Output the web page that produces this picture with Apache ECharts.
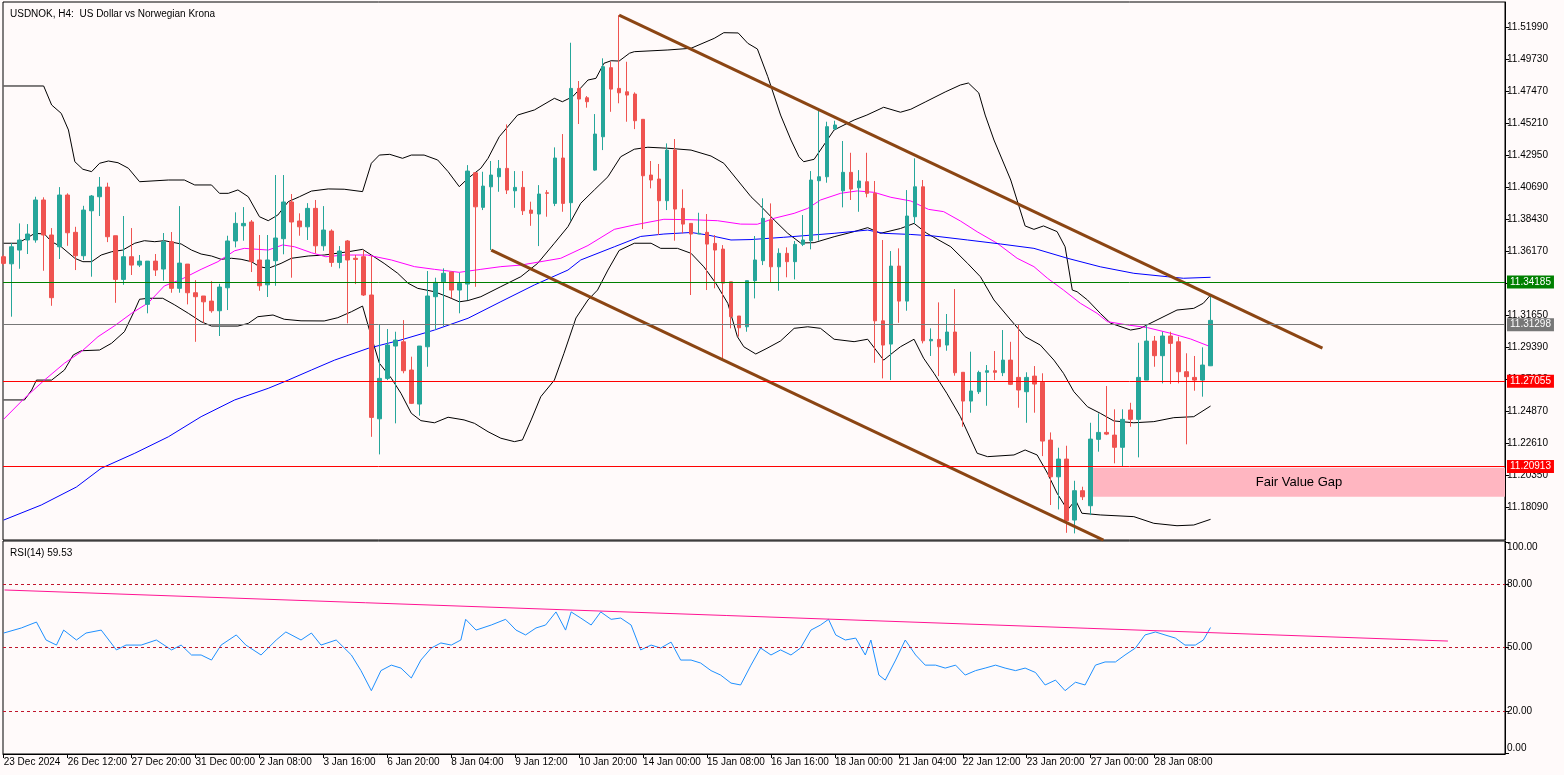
<!DOCTYPE html>
<html><head><meta charset="utf-8">
<script src="https://cdn.jsdelivr.net/npm/echarts@6/dist/echarts.min.js"></script>
<style>html,body{margin:0;padding:0;background:#fffafa;}#c{width:1564px;height:775px;}</style>
</head><body><div id="c"></div>
<script>
const tickLabels = ['23 Dec 2024','26 Dec 12:00','27 Dec 20:00','31 Dec 00:00','2 Jan 08:00','3 Jan 16:00','6 Jan 20:00','8 Jan 04:00','9 Jan 12:00','10 Jan 20:00','14 Jan 00:00','15 Jan 08:00','16 Jan 16:00','18 Jan 00:00','21 Jan 04:00','22 Jan 12:00','23 Jan 20:00','27 Jan 00:00','28 Jan 08:00'];
const priceTicks = [11.1809,11.2035,11.2261,11.2487,11.2713,11.2939,11.3165,11.3391,11.3617,11.3843,11.4069,11.4295,11.4521,11.4747,11.4973,11.5199];
const rsiTicks = [0,20,50,80,100];

const opens = [11.3579,11.3529,11.3626,11.3697,11.3697,11.3979,11.3732,11.3649,11.4014,11.3751,
11.3586,11.3903,11.4002,11.4070,11.3727,11.3419,11.3579,11.3520,11.3243,11.3548,
11.3492,11.3685,11.3356,11.3527,11.3325,11.3302,11.3266,11.3198,11.3360,11.3690,
11.3797,11.3824,11.3556,11.3381,11.3551,11.3706,11.3965,11.3831,11.3790,11.3920,
11.3656,11.3760,11.3539,11.3690,11.3568,11.3579,11.3309,11.2436,11.2721,11.2949,
11.2979,11.2780,11.2540,11.2944,11.3297,11.3402,11.3471,11.3344,11.3386,11.4171,
11.3927,11.4072,11.4143,11.4202,11.4044,11.4068,11.3908,11.3880,11.4030,11.3955,
11.4275,11.3960,11.4766,11.4700,11.4190,11.4425,11.4912,11.4766,11.4742,11.4726,
11.4548,11.4155,11.4127,11.3974,11.4331,11.3920,11.3814,11.3739,11.3751,11.3673,
11.3633,11.3402,11.3161,11.3085,11.3410,11.3551,11.3838,11.3508,11.3603,11.3544,
11.3666,11.3692,11.4115,11.4143,11.4479,11.4044,11.4174,11.4065,11.4108,11.4026,
11.3127,11.2963,11.3513,11.3266,11.3861,11.4072,11.2986,11.2996,11.2956,11.3048,
11.2764,11.2561,11.2627,11.2764,11.2775,11.2761,11.2850,11.2728,11.2627,11.2737,
11.2693,11.2286,11.2027,11.2152,11.1722,11.1929,11.1823,11.2291,11.2340,11.2321,
11.2235,11.2498,11.2432,11.2709,11.2984,11.2881,11.3020,11.2979,11.2768,11.2728,
11.2709,11.2810];
const highs = [11.3591,11.3675,11.3814,11.3809,11.4002,11.3998,11.3781,11.4070,11.4026,11.3790,
11.3938,11.4014,11.4141,11.4101,11.3727,11.3866,11.3781,11.3591,11.3548,11.3598,
11.3746,11.3753,11.3936,11.3527,11.3414,11.3302,11.3407,11.3388,11.3727,11.3892,
11.3929,11.3838,11.3732,11.3732,11.4155,11.4155,11.4021,11.3885,11.3957,11.3979,
11.3936,11.3772,11.3654,11.3697,11.3591,11.3626,11.3584,11.3102,11.3069,11.3050,
11.3132,11.2874,11.2949,11.3478,11.3431,11.3497,11.3471,11.3466,11.4225,11.4171,
11.4178,11.4254,11.4261,11.4512,11.4183,11.4183,11.3967,11.4084,11.4049,11.4350,
11.4444,11.5088,11.4818,11.4712,11.4585,11.4978,11.4954,11.5283,11.4954,11.4738,
11.4548,11.4254,11.4233,11.4378,11.4409,11.4054,11.3814,11.3889,11.3880,11.3732,
11.3661,11.3402,11.3161,11.3410,11.3725,11.3991,11.3955,11.3638,11.3645,11.3690,
11.3873,11.4183,11.4613,11.4531,11.4538,11.4395,11.4312,11.4190,11.4312,11.4113,
11.3697,11.3619,11.3638,11.4049,11.4273,11.4120,11.3074,11.3257,11.3175,11.3351,
11.2764,11.2909,11.2775,11.2815,11.2914,11.3062,11.2979,11.3104,11.2764,11.2808,
11.2757,11.2340,11.2232,11.2246,11.1999,11.1957,11.2408,11.2474,11.2667,11.2503,
11.2503,11.2549,11.2972,11.3102,11.3020,11.3050,11.3050,11.3015,11.2898,11.2879,
11.2940,11.3309];
const lows = [11.3520,11.3156,11.3494,11.3598,11.3678,11.3480,11.3233,11.3563,11.3656,11.3485,
11.3556,11.3438,11.3866,11.3682,11.3254,11.3381,11.3450,11.3506,11.3180,11.3443,
11.3410,11.3325,11.3325,11.3243,11.2979,11.3113,11.3184,11.3020,11.3203,11.3645,
11.3692,11.3471,11.3339,11.3295,11.3374,11.3596,11.3431,11.3727,11.3697,11.3603,
11.3621,11.3508,11.3497,11.3109,11.3386,11.3302,11.2309,11.2185,11.2709,11.2404,
11.2757,11.2540,11.2458,11.2803,11.3062,11.3090,11.3285,11.3180,11.3273,11.3367,
11.3908,11.3626,11.4037,11.4021,11.3924,11.3873,11.3797,11.3654,11.3861,11.3936,
11.3896,11.3833,11.4515,11.4630,11.4185,11.4331,11.4601,11.4661,11.4531,11.4479,
11.3774,11.4061,11.3732,11.3908,11.3692,11.3744,11.3309,11.3739,11.3344,11.3356,
11.2850,11.3074,11.3015,11.3050,11.3285,11.3520,11.3395,11.3339,11.3434,11.3419,
11.3654,11.3631,11.3692,11.4101,11.4472,11.3927,11.3979,11.3896,11.3998,11.2831,
11.2721,11.2709,11.3113,11.3198,11.3814,11.2968,11.2879,11.2737,11.2916,11.2740,
11.2380,11.2479,11.2611,11.2528,11.2709,11.2737,11.2674,11.2514,11.2408,11.2479,
11.2173,11.1828,11.1797,11.1632,11.1628,11.1863,11.1757,11.2204,11.2321,11.2122,
11.2103,11.2380,11.2164,11.2709,11.2803,11.2686,11.2681,11.2686,11.2256,11.2634,
11.2592,11.2808];
const closes = [11.3532,11.3649,11.3697,11.3739,11.3979,11.3732,11.3290,11.4014,11.3748,11.3586,
11.3908,11.4007,11.4070,11.3720,11.3419,11.3579,11.3520,11.3548,11.3548,11.3485,
11.3685,11.3356,11.3534,11.3325,11.3297,11.3261,11.3198,11.3365,11.3690,11.3814,
11.3814,11.3544,11.3374,11.3556,11.3711,11.3965,11.3824,11.3790,11.3920,11.3656,
11.3767,11.3539,11.3619,11.3556,11.3560,11.3309,11.2446,11.2721,11.2956,11.2991,
11.2775,11.2545,11.2949,11.3302,11.3398,11.3462,11.3344,11.3391,11.4183,11.3931,
11.4077,11.4155,11.4202,11.4049,11.4068,11.3903,11.3885,11.4021,11.4026,11.4275,
11.3955,11.4766,11.4691,11.4672,11.4444,11.4919,11.4761,11.4735,11.4719,11.4538,
11.4150,11.4120,11.3974,11.4331,11.3915,11.3809,11.3739,11.3744,11.3668,11.3626,
11.3393,11.3156,11.3078,11.3410,11.3556,11.3850,11.3508,11.3603,11.3544,11.3666,
11.3697,11.4120,11.4143,11.4496,11.4508,11.4174,11.4056,11.4113,11.4026,11.3127,
11.2956,11.3513,11.3266,11.3866,11.4072,11.2986,11.2996,11.2944,11.3048,11.2761,
11.2561,11.2632,11.2763,11.2775,11.2764,11.2850,11.2679,11.2639,11.2728,11.2681,
11.2279,11.2027,11.2152,11.1717,11.1929,11.1886,11.2293,11.2340,11.2328,11.2235,
11.2432,11.2432,11.2728,11.2984,11.2881,11.3020,11.2968,11.2768,11.2733,11.2709,
11.2815,11.3130];

const bbUpper = [[0,11.4783],[5,11.4783],[6,11.4649],[7.2,11.4590],[8.1,11.4473],[8.9,11.4249],[9.9,11.4196],[11,11.4179],[12,11.4238],[13.1,11.4254],[14.3,11.4242],[15.6,11.4203],[17,11.4108],[20.6,11.4120],[22.6,11.4120],[23.9,11.4085],[26,11.4085],[27,11.4026],[28.1,11.4026],[29.3,11.4050],[30.6,11.4002],[32,11.3861],[33.1,11.3833],[34.3,11.3873],[35.6,11.3967],[37,11.4002],[38.5,11.4042],[40.6,11.4057],[42.6,11.4055],[44.9,11.4038],[46,11.4238],[47,11.4296],[48.3,11.4301],[49.9,11.4273],[51,11.4296],[52.6,11.4296],[54.3,11.4261],[55.6,11.4179],[57,11.4073],[58.1,11.4132],[59.7,11.4203],[60.6,11.4273],[62,11.4425],[64.3,11.4578],[66.4,11.4614],[68.9,11.4696],[69.9,11.4672],[71.2,11.4708],[73.1,11.4825],[74.1,11.4837],[75.1,11.4943],[76,11.4961],[77,11.4959],[78.3,11.5014],[78.9,11.5025],[83.1,11.5037],[86,11.5049],[88.9,11.5119],[90.1,11.5159],[91.9,11.5157],[93.1,11.5084],[94.3,11.5044],[95.6,11.4849],[97.2,11.4578],[98.5,11.4402],[99.5,11.4284],[100.1,11.4249],[101.4,11.4266],[103.9,11.4473],[106.4,11.4543],[108,11.4578],[110.1,11.4633],[112.2,11.4598],[113.5,11.4619],[115.3,11.4670],[117.8,11.4741],[119.7,11.4790],[120.7,11.4804],[122,11.4734],[122.8,11.4578],[123.9,11.4402],[126,11.4120],[127.8,11.3796],[128.9,11.3772],[130.1,11.3796],[131.8,11.3756],[132.8,11.3649],[133.7,11.3344],[134.3,11.3332],[135.6,11.3274],[137.2,11.3180],[138.5,11.3110],[141,11.3062],[142.2,11.3074],[144.3,11.3133],[146.8,11.3203],[148.9,11.3215],[150.1,11.3251],[151,11.3309]];
const bbMiddle = [[0,11.3674],[1.8,11.3674],[3.9,11.3744],[5.1,11.3739],[6,11.3685],[7.2,11.3649],[8.9,11.3568],[9.9,11.3544],[11,11.3544],[12.2,11.3591],[13.5,11.3614],[14.9,11.3626],[16.4,11.3674],[17.6,11.3692],[18.9,11.3685],[20.1,11.3692],[22.2,11.3669],[23.5,11.3626],[24.7,11.3598],[26,11.3584],[27.2,11.3561],[28.5,11.3568],[29.7,11.3561],[31,11.3544],[32,11.3509],[33.1,11.3497],[34.7,11.3532],[36,11.3568],[38.1,11.3584],[40.1,11.3591],[43.1,11.3614],[44.9,11.3631],[46,11.3591],[47.6,11.3532],[49.3,11.3462],[50.6,11.3392],[51.8,11.3356],[53.9,11.3332],[55.6,11.3295],[57,11.3261],[58.1,11.3270],[59.7,11.3297],[62.2,11.3368],[64.7,11.3438],[66.8,11.3532],[68.9,11.3674],[70.6,11.3791],[72.2,11.3956],[73.9,11.4050],[75.6,11.4143],[77.2,11.4284],[78.9,11.4337],[80.6,11.4351],[83.1,11.4344],[86,11.4331],[88.5,11.4289],[90.1,11.4238],[91.8,11.4120],[93.5,11.4002],[94.7,11.3937],[96.4,11.3838],[98.1,11.3744],[99.7,11.3676],[101.4,11.3678],[103.9,11.3720],[106.4,11.3756],[108.1,11.3784],[109.7,11.3744],[112.2,11.3778],[113.9,11.3814],[115.5,11.3744],[118.5,11.3649],[120.6,11.3532],[122.2,11.3438],[123.9,11.3274],[126,11.3133],[127.8,11.3015],[129.7,11.2956],[131.4,11.2850],[132.6,11.2757],[133.9,11.2627],[135.6,11.2521],[137.2,11.2475],[138.9,11.2421],[141.4,11.2408],[143.9,11.2416],[146.4,11.2444],[148.9,11.2451],[151,11.2526]];
const bbLower = [[0,11.2569],[2.6,11.2569],[3.5,11.2639],[4.1,11.2709],[6,11.2709],[7.6,11.2780],[8.7,11.2886],[9.7,11.2916],[12,11.2921],[13.5,11.2969],[15.1,11.3050],[16.4,11.3203],[17,11.3279],[18.1,11.3286],[19.9,11.3286],[21.4,11.3239],[23.1,11.3180],[24.7,11.3121],[26,11.3090],[29.3,11.3090],[30.6,11.3109],[31.8,11.3156],[33.7,11.3168],[35.1,11.3138],[37.2,11.3127],[40.1,11.3126],[41.8,11.3149],[43.5,11.3191],[44.9,11.3231],[46,11.3015],[47,11.2828],[48.5,11.2722],[49.7,11.2616],[51,11.2475],[52.2,11.2423],[53.9,11.2408],[55.6,11.2447],[57.6,11.2428],[58.9,11.2404],[60.6,11.2345],[62.2,11.2299],[63.9,11.2275],[64.9,11.2287],[66,11.2428],[67.2,11.2592],[68.9,11.2709],[70.1,11.2898],[71.6,11.3147],[73.1,11.3274],[74.3,11.3344],[75.6,11.3485],[77,11.3623],[78.9,11.3674],[81,11.3674],[82.2,11.3638],[84.3,11.3638],[86,11.3603],[87.6,11.3508],[89.1,11.3392],[90.6,11.3250],[91.8,11.3015],[92.6,11.2944],[94.1,11.2893],[95.5,11.2933],[97.2,11.2985],[98.9,11.3074],[100.6,11.3085],[102.2,11.3074],[103.9,11.2997],[106.4,11.2980],[108.1,11.2997],[110.1,11.2850],[111.4,11.2909],[112.2,11.2944],[113.9,11.2997],[115.1,11.2863],[116.4,11.2757],[118,11.2616],[119.7,11.2451],[121.8,11.2193],[123.1,11.2169],[126.4,11.2181],[127.8,11.2216],[129.3,11.2181],[130.6,11.2052],[131.8,11.1911],[133.1,11.1793],[134.1,11.1863],[134.9,11.1770],[137.2,11.1758],[141.4,11.1746],[143.9,11.1699],[146.8,11.1682],[148.9,11.1687],[151,11.1727]];
const maPink = [[0,11.2433],[2.6,11.2581],[5.1,11.2709],[7.6,11.2828],[9.7,11.2909],[11.8,11.3015],[13.9,11.3093],[16,11.3180],[18.1,11.3254],[20.1,11.3373],[22.2,11.3419],[24.7,11.3490],[26.8,11.3544],[28.9,11.3621],[30.1,11.3638],[33.1,11.3626],[34.9,11.3662],[36.4,11.3649],[38.5,11.3607],[40.3,11.3579],[42.6,11.3591],[45.5,11.3591],[48.5,11.3556],[51.4,11.3509],[53.9,11.3490],[57,11.3469],[59.7,11.3490],[62.2,11.3509],[64.7,11.3520],[69.7,11.3568],[73.1,11.3658],[76.4,11.3772],[78.9,11.3803],[82.6,11.3843],[86,11.3840],[89.3,11.3833],[92.2,11.3809],[94.3,11.3808],[96.4,11.3850],[98.9,11.3885],[100.6,11.3920],[102.2,11.3979],[104.7,11.4026],[106.8,11.4043],[108.9,11.4033],[111,11.3998],[113.5,11.3972],[115.7,11.3913],[117.6,11.3897],[119.7,11.3831],[121.8,11.3755],[124.3,11.3674],[126.8,11.3568],[128.9,11.3509],[130.6,11.3427],[132.6,11.3344],[134.7,11.3251],[136.8,11.3180],[138.1,11.3121],[140.6,11.3098],[143.1,11.3079],[146,11.3039],[148.5,11.2999],[151,11.2944]];
const maBlue = [[0,11.1722],[4.7,11.1828],[9.1,11.1955],[12.2,11.2087],[16.4,11.2193],[20.6,11.2309],[24.7,11.2451],[28.9,11.2569],[33.1,11.2651],[35.6,11.2709],[38.5,11.2780],[41.4,11.2850],[45.6,11.2933],[49.7,11.2992],[53.9,11.3062],[58.1,11.3145],[62.2,11.3262],[66.4,11.3380],[70.6,11.3485],[72.2,11.3556],[76.4,11.3649],[79.7,11.3722],[82.6,11.3739],[86,11.3750],[88.1,11.3732],[91,11.3697],[93.5,11.3700],[97.6,11.3716],[103.9,11.3744],[108.1,11.3767],[110.1,11.3744],[113.5,11.3736],[116.4,11.3725],[120.6,11.3697],[124.7,11.3669],[128.9,11.3638],[133.1,11.3568],[137.2,11.3508],[141.4,11.3462],[145.6,11.3438],[147.6,11.3427],[151,11.3434]];
const channelUpper = [[77,11.5283],[165,11.2935]];
const channelLower = [[61,11.3626],[137.6,11.1581]];
const rsi = [[0,56.9],[2.2,59.3],[4.1,62.1],[5.3,53.6],[6.6,51.2],[7.5,58.3],[9.1,53.6],[10.3,56.9],[12.2,58.3],[14.1,48.9],[15.3,51.2],[17.2,51.2],[19.1,53.6],[21,48.9],[22.2,51.2],[23.5,46.5],[24.7,46.5],[26,44.1],[27.2,51.2],[29.1,56],[30.3,51.2],[32.2,46.5],[34.1,53.6],[35.3,57.4],[37.2,53.6],[38.5,56.9],[39.7,51.2],[41.6,53.6],[43.5,46.5],[44.7,39.1],[46,29.6],[47.2,39.1],[48.5,41.7],[49.7,40.3],[51,35.6],[52.2,44.1],[53.5,49.8],[54.7,52.2],[56,51.2],[57.2,53.6],[57.8,63.4],[59.1,58.3],[61,60.7],[62.8,63.4],[64.1,58.3],[65.3,56],[66.6,59.3],[67.8,60.7],[69.1,66.9],[70.3,58.3],[71,66.9],[72.2,64],[73.5,60.7],[74.7,66.9],[76,63.4],[77.2,64],[78.5,60.7],[79.7,48.9],[81,51.2],[82.2,49.8],[83.5,52.6],[84.7,44.1],[86,44.1],[87.2,42.7],[88.5,39.1],[89.7,37],[91,33.2],[92.2,32.3],[93.5,41.7],[94.7,49.8],[96,46.5],[97.2,48.9],[98.5,46.5],[99.7,49.8],[101,58.3],[102.2,60.7],[103.2,63.4],[104.1,56],[105.3,53.6],[106.6,54.5],[107.8,46.5],[108.5,53.6],[109.5,37],[110.3,34.6],[111.6,44.1],[112.8,53.6],[114.1,46.5],[115.3,41.7],[116.6,41.7],[117.8,40.3],[119.1,41.7],[120.3,37],[121.6,39.1],[122.8,40.3],[124.1,41.7],[125.3,40.3],[126.6,39.1],[127.8,40.3],[129.1,38.2],[130.3,32.3],[131.6,34.6],[132.8,29.6],[134.1,33.6],[135.3,32.3],[136.6,41.7],[137.8,43.2],[139.1,43.2],[140.3,46.5],[141.6,49.8],[142.8,56],[144.1,57.4],[145.3,56],[146.6,54.5],[147.8,51.2],[149.1,51.2],[150.1,53.6],[151,59.53]];
const rsiTrend = [[0.1,77.3],[180.7,53.1]];
const levels = [
  {v:11.34185, color:'#008000'},
  {v:11.31298, color:'#777777'},
  {v:11.27055, color:'#ff0000'},
  {v:11.20913, color:'#ff0000'}
];
const fvg = {x0:136.3, top:11.20913, bottom:11.18867, text:'Fair Value Gap'};

const FONT = 'Liberation Sans';
const XMIN = -0.0875, XMAX = 187.84;
const candleData = opens.map((o,i)=>[i,o,closes[i],lows[i],highs[i]]);

function line(name,data,color,width,xi,yi,z){
  return {name,type:'line',data,xAxisIndex:xi,yAxisIndex:yi,symbol:'none',smooth:false,
    lineStyle:{color,width},z:z||3,silent:true};
}

const chart = echarts.init(document.getElementById('c'),null,{renderer:'canvas'});
const option = {
  animation:false,
  backgroundColor:'#fffafa',
  title:[
    {text:'USDNOK, H4:  US Dollar vs Norwegian Krona',left:5,top:4,textStyle:{fontFamily:FONT,fontSize:10,fontWeight:'normal',color:'#000'}},
    {text:'RSI(14) 59.53',left:5,top:543,textStyle:{fontFamily:FONT,fontSize:10,fontWeight:'normal',color:'#000'}}
  ],
  grid:[
    {left:3,right:59,top:2,height:538,show:true,borderColor:'#000',borderWidth:1,backgroundColor:'transparent'},
    {left:3,right:59,top:541,height:213,show:true,borderColor:'#000',borderWidth:1,backgroundColor:'transparent'}
  ],
  xAxis:[
    {type:'value',gridIndex:0,min:XMIN,max:XMAX,show:false,axisLine:{onZero:false}},
    {type:'value',gridIndex:1,min:XMIN,max:XMAX,position:'bottom',
      axisLine:{show:true,onZero:false,lineStyle:{color:'#000'}},
      axisTick:{show:true,inside:false,length:4,lineStyle:{color:'#000'},customValues:tickLabels.map((_,k)=>k*8)},
      axisLabel:{show:true,customValues:tickLabels.map((_,k)=>k*8),formatter:v=>tickLabels[Math.round(v/8)]||'',
        align:'left',margin:3,color:'#000',fontFamily:FONT,fontSize:10},
      splitLine:{show:false}}
  ],
  yAxis:[
    {type:'value',gridIndex:0,position:'right',min:11.15813,max:11.53753,scale:true,
      axisLine:{show:true,onZero:false,lineStyle:{color:'#000'}},
      axisTick:{show:true,inside:false,length:4,lineStyle:{color:'#000'},customValues:priceTicks},
      axisLabel:{show:true,customValues:priceTicks,formatter:v=>v.toFixed(5),margin:2,color:'#000',fontFamily:FONT,fontSize:10},
      splitLine:{show:false}},
    {type:'value',gridIndex:1,position:'right',min:-0.4,max:100.5,
      axisLine:{show:true,onZero:false,lineStyle:{color:'#000'}},
      axisTick:{show:true,inside:false,length:4,lineStyle:{color:'#000'},customValues:rsiTicks},
      axisLabel:{show:true,customValues:rsiTicks,formatter:v=>v.toFixed(2),margin:2,color:'#000',fontFamily:FONT,fontSize:10,
        verticalAlignMinLabel:'bottom',verticalAlignMaxLabel:'top'},
      splitLine:{show:false}}
  ],
  series:[
    line('bbU',bbUpper,'#000',1,0,0),
    line('bbM',bbMiddle,'#000',1,0,0),
    line('bbL',bbLower,'#000',1,0,0),
    line('ma1',maPink,'#ff00ff',1,0,0),
    line('ma2',maBlue,'#0000ff',1,0,0),
    {type:'candlestick',name:'USDNOK',xAxisIndex:0,yAxisIndex:0,data:candleData,
      encode:{x:0,y:[1,2,3,4]},barWidth:4,clip:true,z:4,
      itemStyle:{color:'#26a69a',color0:'#ef5350',borderColor:'#26a69a',borderColor0:'#ef5350',borderWidth:1},
      markLine:{silent:true,symbol:['none','none'],z:6,
        data:levels.map(l=>({yAxis:l.v,name:l.v.toFixed(5),lineStyle:{color:l.color,width:1,type:'solid'},
          label:{show:true,position:'end',formatter:'{b}',distance:2,color:'#fff',backgroundColor:l.color,
            padding:[2,3,1,3],fontFamily:FONT,fontSize:10}}))},
      markArea:{silent:true,z:1,
        data:[[{xAxis:fvg.x0,yAxis:fvg.top,itemStyle:{color:'#ffb6c1',opacity:1},
          label:{show:true,position:'inside',formatter:fvg.text,color:'#000',fontFamily:FONT,fontSize:13}},
          {xAxis:XMAX,yAxis:fvg.bottom}]]}
    },
    line('chU',channelUpper,'#8b4513',3,0,0,5),
    line('chL',channelLower,'#8b4513',3,0,0,5),
    Object.assign(line('rsi',rsi,'#1e90ff',1,1,1),{
      markLine:{silent:true,symbol:['none','none'],label:{show:false},
        lineStyle:{color:'#c0152b',width:1,type:[3,3]},
        data:[{yAxis:80},{yAxis:50},{yAxis:20}]}}),
    line('rsiT',rsiTrend,'#ff1493',1,1,1,4)
  ]
};
chart.setOption(option);
</script></body></html>
